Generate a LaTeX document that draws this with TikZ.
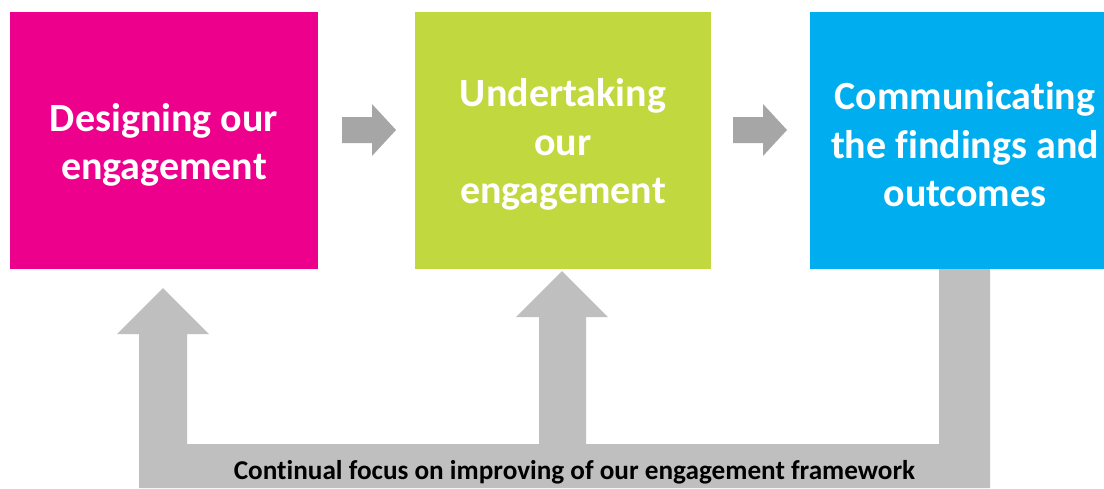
\documentclass[tikz,border=0pt]{standalone}
\usepackage{fontspec}
\setmainfont{Carlito}[Ligatures=NoCommon]
\usetikzlibrary{calc}
\definecolor{pinkc}{HTML}{EC008C}
\definecolor{greenc}{HTML}{C1D83F}
\definecolor{bluec}{HTML}{00AEEF}
\definecolor{grayband}{HTML}{BFBFBF}
\definecolor{grayarrow}{HTML}{A6A6A6}
\begin{document}
\begin{tikzpicture}[x=1pt,y=-1pt,
  stagebox/.style={draw=none, minimum height=257pt, inner sep=0pt},
  stagetext/.style={text=white, font=\bfseries\fontsize{40}{48.5}\selectfont,
    align=center, inner sep=0pt},
  nextarrow/.pic={\fill[grayarrow] (-27,-13) -- (3,-13) -- (3,-26) -- (27,0)
    -- (3,26) -- (3,13) -- (-27,13) -- cycle;},
  loopfill/.style={fill=grayband, draw=none},
  looplabel/.style={font=\bfseries\fontsize{27.2}{30}\selectfont, text=black, inner sep=0pt}]
\useasboundingbox (0,0) rectangle (1104,488);
\fill[white] (0,0) rectangle (1104,488);
% stage boxes
\node[stagebox, fill=pinkc, minimum width=308pt] (design) at (164,140.5) {};
\node[stagebox, fill=greenc, minimum width=296pt] (undertake) at (563,140.5) {};
\node[stagebox, fill=bluec, minimum width=296pt] (communicate) at (958,140.5) {};
\node[stagetext] (designtext) at ([yshift=-4.5pt]design.center) {Designing our\\engagement};
\node[stagetext] (undertaketext) at ([yshift=-4pt]undertake.center) {Undertaking\\our\\engagement};
\node[stagetext] (communicatetext) at ([xshift=7pt,yshift=-4pt]communicate.center) {Communicating\\the findings and\\outcomes};
% arrows between stages
\pic at (369,130) {nextarrow};
\pic at (760,130) {nextarrow};
% feedback loop
\path[loopfill]
  (939,269) -- (990,269) -- (990,488) -- (139,488) -- (139,334) -- (117,334)
  -- (163,288) -- (209,334) -- (187,334) -- (187,444) -- (539,444) -- (539,317)
  -- (516,317) -- (562,271) -- (608,317) -- (586,317) -- (586,444) -- (939,444) -- cycle;
\node[looplabel, anchor=base] (loop) at (574.5,479) {Continual focus on improving of our engagement framework};
\end{tikzpicture}
\end{document}
